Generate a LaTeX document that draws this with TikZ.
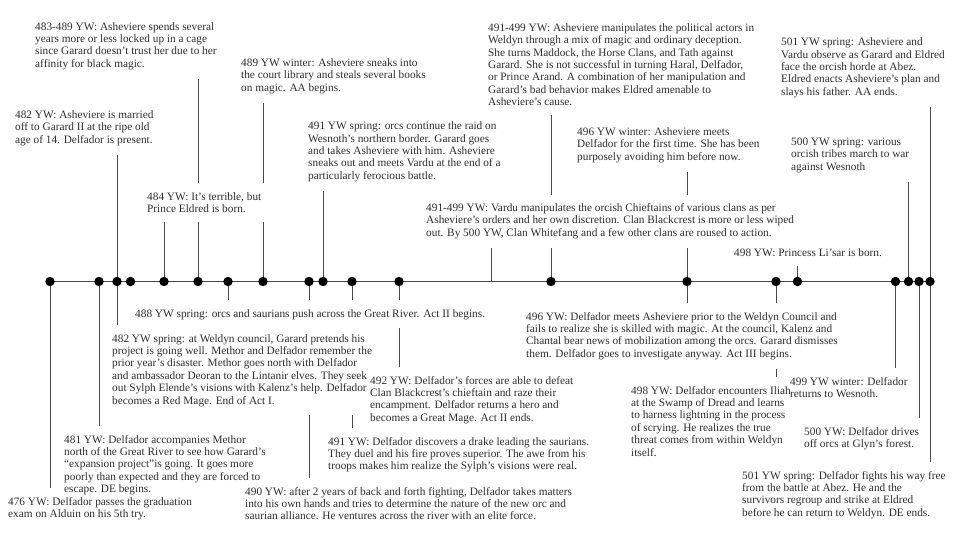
\documentclass[tikz,border=0pt]{standalone}
\usepackage{fontspec}
\setmainfont{Liberation Serif}
\usetikzlibrary{calc}
\pgfdeclarelayer{background}
\pgfsetlayers{background,main}
\definecolor{txt}{HTML}{2E2E2E}
\definecolor{linec}{HTML}{4A4A4A}
\newcommand\evtfont{\fontsize{11.3}{12.4}\selectfont}
\tikzset{
  evt/.style={font=\evtfont, text=txt, align=left, inner xsep=8pt, inner ysep=9pt},
  evtup/.style={evt, anchor=south west},
  evtdown/.style={evt, anchor=north west},
  mask/.style={fill=white},
  tdot/.style={circle, fill=black, inner sep=0pt, minimum size=9.4pt},
  conn/.style={draw=linec, line width=0.9pt},
}
\begin{document}
\begin{tikzpicture}[x=1pt,y=-1pt]
\useasboundingbox (0,0) rectangle (960,540);
% dots on the timeline
\foreach \n/\x in {d476/50,d481/99,d482/117,d130/130.5,d484/164,d483/198,d488/228,d489/263,d490/309,d491s/323,d491d/352,d492/399,d491a/551,d496/687,d498/776,d498l/797.5,d499/895.5,d500s/908.5,d500d/919,d501/930}
  \node[tdot] (\n) at (\x,281.5) {};
\coordinate (v491) at (491.5,281.5);
% upper events
\node[evtup] (n483) at (27,79) {483-489 YW: Asheviere spends several\\years more or less locked up in a cage\\since Garard doesn’t trust her due to her\\affinity for black magic.};
\node[evtup] (n482m) at (7,155) {482 YW: Asheviere is married\\off to Garard II at the ripe old\\age of 14. Delfador is present.};
\node[evtup] (n489) at (233,103) {489 YW winter: Asheviere sneaks into\\the court library and steals several books\\on magic. AA begins.};
\node[evtup,mask] (n484) at (139,222) {484 YW: It’s terrible, but\\Prince Eldred is born.};
\node[evtup] (n491s) at (300,191) {491 YW spring: orcs continue the raid on\\Wesnoth’s northern border. Garard goes\\and takes Asheviere with him. Asheviere\\sneaks out and meets Vardu at the end of a\\particularly ferocious battle.};
\node[evtup] (n491a) at (480,115) {491-499 YW: Asheviere manipulates the political actors in\\Weldyn through a mix of magic and ordinary deception.\\She turns Maddock, the Horse Clans, and Tath against\\Garard. She is not successful in turning Haral, Delfador,\\or Prince Arand. A combination of her manipulation and\\Garard’s bad behavior makes Eldred amenable to\\Asheviere’s cause.};
\node[evtup] (n496w) at (569,172) {496 YW winter: Asheviere meets\\Delfador for the first time. She has been\\purposely avoiding him before now.};
\node[evtup] (n501a) at (773,107) {501 YW spring: Asheviere and\\Vardu observe as Garard and Eldred\\face the orcish horde at Abez.\\Eldred enacts Asheviere’s plan and\\slays his father. AA ends.};
\node[evtup] (n500s) at (783,182) {500 YW spring: various\\orcish tribes march to war\\against Wesnoth};
\node[evtup,mask] (nvardu) at (418,248) {491-499 YW: Vardu manipulates the orcish Chieftains of various clans as per\\Asheviere’s orders and her own discretion. Clan Blackcrest is more or less wiped\\out. By 500 YW, Clan Whitefang and a few other clans are roused to action.};
\node[evtup] (n498l) at (726,266) {498 YW: Princess Li’sar is born.};
% lower events
\node[evtdown,mask] (n488) at (127,300) {488 YW spring: orcs and saurians push across the Great River. Act II begins.};
\node[evtdown,mask] (n482s) at (104,325) {482 YW spring: at Weldyn council, Garard pretends his\\project is going well. Methor and Delfador remember the\\prior year’s disaster. Methor goes north with Delfador\\and ambassador Deoran to the Lintanir elves. They seek\\out Sylph Elende’s visions with Kalenz’s help. Delfador\\becomes a Red Mage. End of Act I.};
\node[evtdown,mask] (n496m) at (518,303) {496 YW: Delfador meets Asheviere prior to the Weldyn Council and\\fails to realize she is skilled with magic. At the council, Kalenz and\\Chantal bear news of mobilization among the orcs. Garard dismisses\\them. Delfador goes to investigate anyway. Act III begins.};
\node[evtdown] (n481) at (56,426) {481 YW: Delfador accompanies Methor\\north of the Great River to see how Garard’s\\“expansion project”is going. It goes more\\poorly than expected and they are forced to\\escape. DE begins.};
\node[evtdown] (n476) at (0,488) {476 YW: Delfador passes the graduation\\exam on Alduin on his 5th try.};
\node[evtdown] (n490) at (237,478) {490 YW: after 2 years of back and forth fighting, Delfador takes matters\\into his own hands and tries to determine the nature of the new orc and\\saurian alliance. He ventures across the river with an elite force.};
\node[evtdown] (n491d) at (320,428) {491 YW: Delfador discovers a drake leading the saurians.\\They duel and his fire proves superior. The awe from his\\troops makes him realize the Sylph’s visions were real.};
\node[evtdown] (n492) at (362,367) {492 YW: Delfador’s forces are able to defeat\\Clan Blackcrest’s chieftain and raze their\\encampment. Delfador returns a hero and\\becomes a Great Mage. Act II ends.};
\node[evtdown] (n498e) at (623,377) {498 YW: Delfador encounters Iliah\\at the Swamp of Dread and learns\\to harness lightning in the process\\of scrying. He realizes the true\\threat comes from within Weldyn\\itself.};
\node[evtdown] (n499) at (782,368) {499 YW winter: Delfador\\returns to Wesnoth.};
\node[evtdown] (n500d) at (796,418) {500 YW: Delfador drives\\off orcs at Glyn’s forest.};
\node[evtdown] (n501d) at (734,462) {501 YW spring: Delfador fights his way free\\from the battle at Abez. He and the\\survivors regroup and strike at Eldred\\before he can return to Weldyn. DE ends.};
% connectors
\begin{pgfonlayer}{background}
\draw[conn] (d476.center) -- (d501.center);
\draw[conn] (d483) -- (d483 |- n483.south);
\draw[conn] (d482) -- (d482 |- n482m.south);
\draw[conn] (d489) -- (d489 |- n489.south);
\draw[conn] (d484) -- (d484 |- n484.south);
\draw[conn] (d491s) -- (d491s |- n491s.south);
\draw[conn] (d491a) -- (d491a |- n491a.south);
\draw[conn] (d496) -- (d496 |- n496w.south);
\draw[conn] (d501) -- (d501 |- n501a.south);
\draw[conn] (d500s) -- (d500s |- n500s.south);
\draw[conn] (v491) -- (v491 |- nvardu.south);
\draw[conn] (d498l) -- (d498l |- n498l.south);
\draw[conn] (d488) -- (d488 |- n488.north);
\draw[conn] (d482) -- (d482 |- n482s.north);
\draw[conn] (d496) -- (d496 |- n496m.north);
\draw[conn] (d481) -- (d481 |- n481.north);
\draw[conn] (d476) -- (d476 |- n476.north);
\draw[conn] (d490) -- (d490 |- n490.north);
\draw[conn] (d491d) -- (d491d |- n491d.north);
\draw[conn] (d492) -- (d492 |- n492.north);
\draw[conn] (d498) -- (d498 |- n498e.north);
\draw[conn] (d499) -- (d499 |- n499.north);
\draw[conn] (d500d) -- (d500d |- n500d.north);
\draw[conn] (d501) -- (d501 |- n501d.north);
\end{pgfonlayer}
\end{tikzpicture}
\end{document}
